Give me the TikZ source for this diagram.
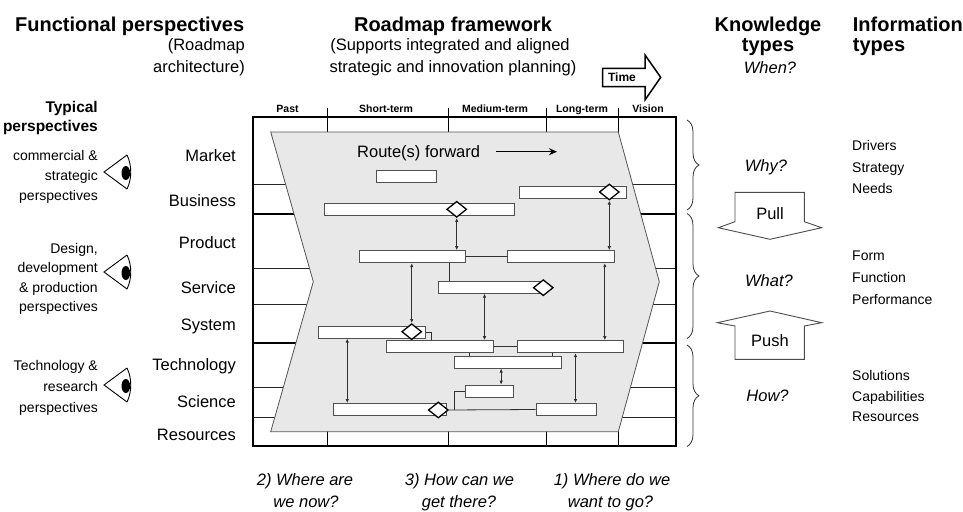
\documentclass[tikz,border=0pt]{standalone}
\usepackage{fontspec}
\setmainfont{Liberation Sans}
\usetikzlibrary{shapes.geometric,arrows.meta,decorations.pathreplacing,calc}
\definecolor{shade}{HTML}{E8E8E8}
\definecolor{edgegray}{HTML}{555555}
\definecolor{boxgray}{HTML}{505050}
\definecolor{conngray}{HTML}{303030}
\begin{document}
\begin{tikzpicture}[x=1pt,y=-1pt,
  title/.style={font=\fontsize{20}{24}\selectfont\bfseries, inner sep=0, anchor=base},
  txt/.style={font=\fontsize{16.5}{20}\selectfont, inner sep=0, anchor=base},
  itxt/.style={font=\fontsize{16.5}{20}\selectfont\itshape, inner sep=0, anchor=base},
  small/.style={font=\fontsize{14}{17}\selectfont, inner sep=0},
  smallb/.style={font=\fontsize{15.5}{18}\selectfont\bfseries, inner sep=0, anchor=base east},
  hdr/.style={font=\fontsize{10.5}{12}\selectfont\bfseries, inner sep=0, anchor=base},
  rowlab/.style={txt, anchor=base east},
  persp/.style={small, anchor=base east},
  info/.style={small, anchor=base west},
  bx/.style={rectangle, draw=boxgray, fill=white, line width=1pt, minimum height=12, inner sep=0},
  dia/.style={diamond, draw=black, fill=white, line width=1.3pt, minimum width=20, minimum height=16, inner sep=0},
  conn/.style={draw=conngray, line width=0.8pt},
  dbl/.style={conn, {Latex[length=4pt,width=3.5pt]}-{Latex[length=4pt,width=3.5pt]}},
  thinrow/.style={line width=1pt, draw=black!85},
  thickrow/.style={line width=2pt, draw=black},
  bracestyle/.style={draw=black!80, line width=0.8pt, decorate, decoration={brace, amplitude=12pt}},
  bigarrow/.style={draw=black!70, line width=0.9pt, fill=white},
  eyeicon/.pic={
    \draw[line width=0.9pt] (23,-17) -- (0,0) -- (23,17);
    \draw[line width=0.9pt] (23,-17) .. controls (28,-7) and (28,7) .. (23,17);
    \fill (21.8,1) ellipse [x radius=4.3, y radius=7];
  }]
\useasboundingbox (0,0) rectangle (963,511);

% ---------- headings ----------
\node[title, anchor=base west] (tFP) at (15,31.5) {Functional perspectives};
\node[txt, anchor=base east] (tRA1) at (245,50.5) {(Roadmap};
\node[txt, anchor=base east] (tRA2) at (245,72.5) {architecture)};
\node[title] (tRF) at (453,31.5) {Roadmap framework};
\node[txt] (tSI1) at (450,51) {(Supports integrated and aligned};
\node[txt] (tSI2) at (453,73) {strategic and innovation planning)};
\node[title] (tKT1) at (768,31.5) {Knowledge};
\node[title] (tKT2) at (768,51.5) {types};
\node[itxt] (tWhen) at (770,74) {When?};
\node[title, anchor=base west] (tIT1) at (852.7,31.5) {Information};
\node[title, anchor=base west] (tIT2) at (852.7,51.5) {types};

% ---------- time arrow ----------
\draw[line width=1.5pt] (602.7,68.3) -- (645,68.3) -- (645,55) -- (660.7,77.3) -- (645,100) -- (645,86.7) -- (602.7,86.7) -- cycle;
\node[font=\fontsize{12}{14}\selectfont\bfseries, inner sep=0, anchor=base] (tTime) at (622,81.5) {Time};

% ---------- column headers ----------
\node[hdr] (hPast) at (287.5,112) {Past};
\node[hdr] (hShort) at (386,112) {Short-term};
\node[hdr] (hMed) at (495,112) {Medium-term};
\node[hdr] (hLong) at (582,112) {Long-term};
\node[hdr] (hVis) at (648,112) {Vision};

% ---------- grid ----------
\foreach \yy in {184.5,268,304.5,387,417} \draw[thinrow] (253,\yy) -- (676,\yy);
\foreach \yy in {214,342.5} \draw[thickrow] (253,\yy) -- (676,\yy);
\foreach \xx in {327,448.7,546,618.7} \draw[line width=1pt] (\xx,108) -- (\xx,446);
\draw[line width=2pt] (253,117) rectangle (676,446);

% ---------- chevron ----------
\draw[fill=shade, draw=edgegray, line width=0.8pt] (270.7,132) -- (313.3,281.7) -- (270.7,431.7) -- (618.3,431.7) -- (659.3,281.7) -- (618.3,132) -- cycle;

\node[txt, anchor=base west] (route) at (357,157.5) {Route(s) forward};
\coordinate (routeEnd) at (557,151.7);
\draw[line width=1.5pt, -{Stealth[length=8pt,width=7pt]}] ([xshift=16]route.east |- routeEnd) -- (routeEnd);

% ---------- boxes ----------
\node[bx, minimum width=60] (B1) at (406,176.5) {};
\node[bx, minimum width=107.4] (B2) at (573,192.2) {};
\node[bx, minimum width=190] (B3) at (419,209.2) {};
\node[bx, minimum width=106.4] (B4) at (412.5,256.7) {};
\node[bx, minimum width=106.6] (B5) at (561,256.7) {};
\node[bx, minimum width=104.4] (B6) at (490.5,287.2) {};
\node[bx, minimum width=106.7] (B7) at (371.7,332) {};
\node[bx, minimum width=106.6] (B8) at (440,346.7) {};
\node[bx, minimum width=105.6] (B9) at (570.5,346.7) {};
\node[bx, minimum width=106.7] (B10) at (508.3,362) {};
\node[bx, minimum width=48.3] (B11) at (489.2,391.2) {};
\node[bx, minimum width=113.4] (B12) at (390,409.5) {};
\node[bx, minimum width=60] (B13) at (566,409.5) {};

% ---------- connectors ----------
\draw[conn] (B4.east) -- (B5.west);
\draw[conn] ([xshift=-16.7]B4.south east) -- ([xshift=-16.7]B4.south east |- B6.north);
\draw[dbl] ([xshift=-10]B5.south east) -- ([xshift=-10]B5.south east |- B9.north);
\draw[dbl] ([xshift=46.7]B6.south west) -- ([xshift=46.7]B6.south west |- B8.north);
\draw[conn] (B7.east) -| ([xshift=45]B8.north west);
\draw[conn] (B8.east) -- (B9.west);
\draw[conn] ([xshift=15]B10.north west |- B8.south) -- ([xshift=15]B10.north west);
\draw[conn] ([xshift=-10]B10.north east |- B9.south) -- ([xshift=-10]B10.north east);
\draw[dbl] ([xshift=46.7]B10.south west) -- ([xshift=46.7]B10.south west |- B11.north);
\draw[dbl] ([xshift=29.4]B7.south west) -- ([xshift=29.4]B7.south west |- B12.north);
\draw[dbl] ([xshift=58.3]B9.south west) -- ([xshift=58.3]B9.south west |- B13.north);

% ---------- diamonds ----------
\node[dia] (D2) at (609.3,192) {};
\node[dia] (D3) at (456.7,209.3) {};
\node[dia] (D6) at (543.3,287.7) {};
\node[dia] (D7) at (411.7,331.7) {};
\node[dia] (D12) at (438.3,410) {};

\draw[dbl] (D3.south) -- (D3.south |- B4.north);
\draw[dbl] (D2.south) -- (D2.south |- B5.north);
\draw[dbl] (D7.north |- B4.south) -- (D7.north);
\draw[conn] (D12.east) -- (B13.west);
\draw[conn] (B11.west) -| ([xshift=5]D12.east);

% ---------- row labels ----------
\node[rowlab] (lMarket) at (236,161) {Market};
\node[rowlab] (lBusiness) at (236,206) {Business};
\node[rowlab] (lProduct) at (236,248) {Product};
\node[rowlab] (lService) at (236,293) {Service};
\node[rowlab] (lSystem) at (236,330) {System};
\node[rowlab] (lTech) at (236,370) {Technology};
\node[rowlab] (lScience) at (236,407) {Science};
\node[rowlab] (lRes) at (236,440) {Resources};

% ---------- left perspectives ----------
\node[smallb] (pTyp1) at (98,112) {Typical};
\node[smallb] (pTyp2) at (98,131.5) {perspectives};
\node[persp] (pC1) at (98,160) {commercial \&};
\node[persp] (pC2) at (98,180) {strategic};
\node[persp] (pC3) at (98,200) {perspectives};
\node[persp] (pD1) at (98,253) {Design,};
\node[persp] (pD2) at (98,272) {development};
\node[persp] (pD3) at (98,292) {\& production};
\node[persp] (pD4) at (98,311) {perspectives};
\node[persp] (pT1) at (98,370) {Technology \&};
\node[persp] (pT2) at (98,391) {research};
\node[persp] (pT3) at (98,412) {perspectives};
\pic at (104,172) {eyeicon};
\pic at (104,272) {eyeicon};
\pic at (104,385) {eyeicon};

% ---------- braces ----------
\draw[bracestyle] (687,120) -- (687,210);
\draw[bracestyle] (687,213.5) -- (687,338.5);
\draw[bracestyle] (687,345) -- (687,446.5);

\node[itxt] (kWhy) at (766,171) {Why?};
\node[itxt] (kWhat) at (769,286) {What?};
\node[itxt] (kHow) at (767.5,401) {How?};

% ---------- pull / push ----------
\draw[bigarrow] (735,192.3) -- (735,221.7) -- (718.3,227.7) -- (770,239.3) -- (821.7,227.7) -- (804.3,221.7) -- (804.3,192.3) -- cycle;
\node[txt] (aPull) at (770,219) {Pull};
\draw[bigarrow] (735,359.3) -- (735,326) -- (717.3,322.7) -- (770,311) -- (821.7,322.7) -- (804.3,326) -- (804.3,359.3) -- cycle;
\node[txt] (aPush) at (770,346) {Push};

% ---------- information types ----------
\node[info] (i1) at (852,150.7) {Drivers};
\node[info] (i2) at (852,172.3) {Strategy};
\node[info] (i3) at (852,193.3) {Needs};
\node[info] (i4) at (852,260.7) {Form};
\node[info] (i5) at (852,282.3) {Function};
\node[info] (i6) at (852,304) {Performance};
\node[info] (i7) at (852,380) {Solutions};
\node[info] (i8) at (852,401) {Capabilities};
\node[info] (i9) at (852,421.7) {Resources};

% ---------- bottom questions ----------
\node[itxt] (q1a) at (305,485) {2) Where are};
\node[itxt] (q1b) at (306,507) {we now?};
\node[itxt] (q2a) at (459.5,485) {3) How can we};
\node[itxt] (q2b) at (459,507) {get there?};
\node[itxt] (q3a) at (612,485) {1) Where do we};
\node[itxt] (q3b) at (610.5,507) {want to go?};
\end{tikzpicture}
\end{document}
